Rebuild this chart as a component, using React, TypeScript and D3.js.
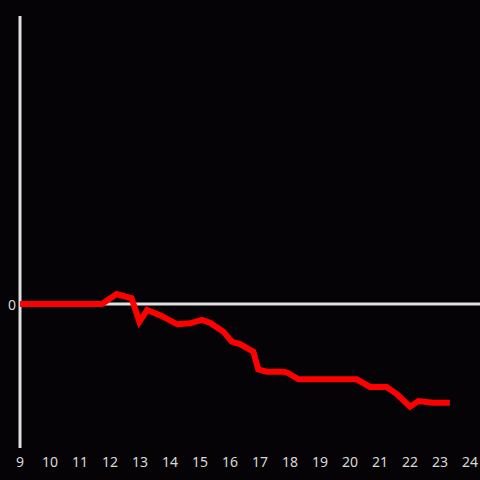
import React from "react";
import * as d3 from "d3";

const hours = [9, 11.73, 12.22, 12.72, 12.98, 13.24, 13.72, 14.24, 14.67, 15.06, 15.33, 15.78, 16.06, 16.33, 16.78, 16.94, 17.22, 17.78, 17.93, 18.28, 20.22, 20.67, 21.22, 21.56, 22.0, 22.28, 22.77, 23.33];
const values = [0, 0, 0.069, 0.04, -0.123, -0.042, -0.083, -0.141, -0.134, -0.111, -0.13, -0.192, -0.262, -0.278, -0.331, -0.454, -0.47, -0.47, -0.479, -0.523, -0.523, -0.576, -0.576, -0.625, -0.713, -0.674, -0.686, -0.686];
const xTicks = [9, 10, 11, 12, 13, 14, 15, 16, 17, 18, 19, 20, 21, 22, 23, 24];
const yTicks = [0];

export default function App() {
  const W = 480, H = 480;
  const x = d3.scaleLinear().domain([9, 24]).range([20, 470]);
  const y = d3.scaleLinear().domain([-1, 2]).range([448, 16]);
  const pts = hours.map((h, i) => [h, values[i]] as [number, number]);
  const line = d3.line<[number, number]>().x(d => x(d[0])).y(d => y(d[1]));
  const font = "'Noto Sans', sans-serif";
  return (
    <div style={{ position: "fixed", left: 0, top: 0 }}>
      <svg width={W} height={H} style={{ display: "block", background: "#050305" }}>
        <rect x={0} y={0} width={W} height={H} fill="#050305" />
        <line x1={x(9)} x2={W} y1={y(0)} y2={y(0)} stroke="#e0e0e0" strokeWidth={3} />
        <line x1={x(9)} x2={x(9)} y1={16} y2={448} stroke="#e0e0e0" strokeWidth={3} />
        <path d={line(pts) || ""} fill="none" stroke="#ff0000" strokeWidth={6} strokeLinejoin="miter" />
        {xTicks.map(t => (
          <text key={t} x={x(t)} y={461} textAnchor="middle" dominantBaseline="central" fill="#d8d8d8" fontSize={14} fontFamily={font}>{t}</text>
        ))}
        {yTicks.map(t => (
          <text key={t} x={16} y={y(t)} textAnchor="end" dominantBaseline="central" fill="#d8d8d8" fontSize={14} fontFamily={font}>{t}</text>
        ))}
      </svg>
    </div>
  );
}
